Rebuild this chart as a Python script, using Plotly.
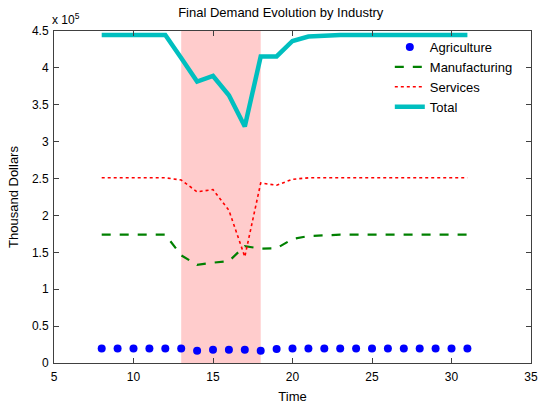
import plotly.graph_objects as go

time = list(range(8, 32))
agriculture = [19500, 19500, 19500, 19500, 19500, 19500, 16500, 18000, 18000, 18000, 16500, 19000,
               19500, 19500, 19500, 19500, 19500, 19500, 19500, 19500, 19500, 19500, 19500, 19500]
manufacturing = [174000, 174000, 174000, 174000, 174000, 146000, 133000, 136000, 138000, 158500, 155000, 155500,
                 168000, 172000, 173500, 174000, 174000, 174000, 174000, 174000, 174000, 174000, 174000, 174000]
services = [251000, 251000, 251000, 251000, 251000, 248000, 232000, 235000, 207000, 144000, 244000, 241000,
            249000, 251000, 251000, 251000, 251000, 251000, 251000, 251000, 251000, 251000, 251000, 251000]
total = [a + m + s for a, m, s in zip(agriculture, manufacturing, services)]

shade_start, shade_end = 13, 18
y_ticks = [0, 50000, 100000, 150000, 200000, 250000, 300000, 350000, 400000, 450000]
y_ticktext = ["0", "0.5", "1", "1.5", "2", "2.5", "3", "3.5", "4", "4.5"]
x_ticks = [5, 10, 15, 20, 25, 30, 35]

font = "Liberation Sans, Arial, sans-serif"

fig = go.Figure()
fig.add_vrect(x0=shade_start, x1=shade_end, fillcolor="#FFCCCC", line_width=0, layer="below")

fig.add_trace(go.Scatter(x=time, y=agriculture, name="Agriculture", mode="markers",
                         marker=dict(color="#0000FF", size=8, symbol="circle")))
fig.add_trace(go.Scatter(x=time, y=manufacturing, name="Manufacturing", mode="lines",
                         line=dict(color="#008000", width=2.2, dash="dash")))
fig.add_trace(go.Scatter(x=time, y=services, name="Services", mode="lines",
                         line=dict(color="#FF0000", width=1.6, dash="dot")))
fig.add_trace(go.Scatter(x=time, y=total, name="Total", mode="lines",
                         line=dict(color="#00BFBF", width=4.5)))

axis_common = dict(showline=True, mirror="ticks", linecolor="#404040", linewidth=1,
                   ticks="inside", ticklen=5, tickcolor="#404040", showgrid=False, zeroline=False,
                   automargin=False,
                   tickfont=dict(size=12, color="black", family=font))

fig.update_layout(
    width=542, height=406,
    margin=dict(l=54, r=11, t=31, b=43),
    paper_bgcolor="white", plot_bgcolor="white",
    font=dict(family=font, size=12, color="black"),
    title=dict(text="Final Demand Evolution by Industry", x=0.518, xanchor="center",
               y=0.9704, yanchor="middle", font=dict(size=13, family=font, color="black"),
               automargin=False),
    xaxis=dict(range=[5, 35], tickvals=x_ticks, ticklabelstandoff=3,
               title=dict(text="Time", standoff=8, font=dict(size=13, family=font)), **axis_common),
    yaxis=dict(range=[0, 450000], tickvals=y_ticks, ticktext=y_ticktext, ticklabelstandoff=2,
               title=dict(text="Thousand Dollars", standoff=10, font=dict(size=13, family=font)),
               **axis_common),
    legend=dict(x=0.704, y=0.997, xanchor="left", yanchor="top", bgcolor="rgba(0,0,0,0)",
                font=dict(size=13, family=font), tracegroupgap=0, itemsizing="trace"),
    showlegend=True,
)
fig.add_annotation(text="x 10<sup>5</sup>", xref="paper", yref="paper", x=0.0, y=1.0,
                   xanchor="left", yanchor="bottom", showarrow=False, xshift=-4, yshift=2,
                   font=dict(size=12, family=font, color="black"))

fig.write_html("out.html", config={"displayModeBar": False},
               post_script="document.body.style.margin='0px';document.body.style.overflow='hidden';")
